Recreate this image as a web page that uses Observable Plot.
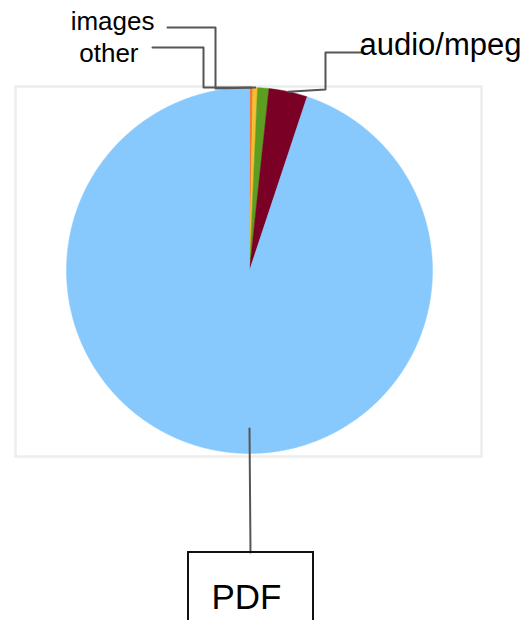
<!DOCTYPE html>
<html><head><meta charset="utf-8">
<script src="https://cdn.jsdelivr.net/npm/d3@7"></script>
<script src="https://cdn.jsdelivr.net/npm/@observablehq/plot@0.6"></script>
<style>body{margin:0;background:#fff}#chart svg{display:block}</style>
</head><body><div id="chart"></div>
<script>
// ---- data (clockwise from 12 o'clock) ----
const categories = ["other", "images", "unlabeled", "audio/mpeg", "PDF"];
const shares = [0.3, 0.4, 1.0, 3.4, 94.9];
const colors = ["#f07a3a", "#f2c12e", "#5c9e22", "#7b0025", "#88c9fd"];
const labels = ["other", "images", "", "audio/mpeg", "PDF"];

// ---- layout (pixels) ----
const W = 531, H = 620;
const cx = 249, cy = 270, R = 183;
const frameBox = {left: 15, right: 481, top: 86, bottom: 456};
const ux = px => (px - cx) / R;
const uy = py => (cy - py) / R;
// leader start (null = slice outer edge), elbows and label anchors per label
const layout = {
  "other":      {start: null, path: [[203, 87], [203, 47], [152, 47]], text: [138, 53.5], anchor: "end", size: 26},
  "images":     {start: null, path: [[215, 88], [215, 27], [167, 27]], text: [154, 21], anchor: "end", size: 26},
  "audio/mpeg": {start: null, path: [[325, 89], [325, 52], [362, 52]], text: [359, 45], anchor: "start", size: 31},
  "PDF":        {start: [249, 428], path: [[250, 552]], text: [246, 597], anchor: "middle", size: 35, box: [188, 313, 552, 640]}
};

// ---- slice geometry from data ----
const total = d3.sum(shares);
let cum = 0;
const slices = categories.map((name, i) => {
  const a0 = cum / total * 2 * Math.PI;
  cum += shares[i];
  const a1 = cum / total * 2 * Math.PI;
  return {name, a0, a1, mid: (a0 + a1) / 2, label: labels[i]};
});
const slicePts = [];
for (const s of slices) {
  slicePts.push({name: s.name, x: 0, y: 0});
  const n = Math.max(2, Math.ceil((s.a1 - s.a0) / 0.005));
  for (let k = 0; k <= n; k++) {
    const a = s.a0 + (s.a1 - s.a0) * k / n;
    slicePts.push({name: s.name, x: Math.sin(a), y: Math.cos(a)});
  }
  slicePts.push({name: s.name, x: 0, y: 0});
}

const leaderPts = [];
const textData = [];
const boxes = [];
for (const s of slices) {
  if (!s.label) continue;
  const L = layout[s.label];
  const start = L.start ? {x: ux(L.start[0]), y: uy(L.start[1])} : {x: Math.sin(s.mid), y: Math.cos(s.mid)};
  leaderPts.push({label: s.label, ...start});
  for (const [px, py] of L.path) leaderPts.push({label: s.label, x: ux(px), y: uy(py)});
  textData.push({label: s.label, x: ux(L.text[0]), y: uy(L.text[1]), anchor: L.anchor, size: L.size});
  if (L.box) boxes.push({x1: ux(L.box[0]), x2: ux(L.box[1]), y1: uy(L.box[2]), y2: uy(L.box[3])});
}

const font = "'Liberation Sans', Arial, sans-serif";
const chart = Plot.plot({
  width: W, height: H,
  marginLeft: frameBox.left, marginRight: W - frameBox.right,
  marginTop: frameBox.top, marginBottom: H - frameBox.bottom,
  x: {domain: [ux(frameBox.left), ux(frameBox.right)], axis: null},
  y: {domain: [uy(frameBox.bottom), uy(frameBox.top)], axis: null},
  color: {domain: categories, range: colors},
  style: {fontFamily: font, background: "#fff", overflow: "visible"},
  marks: [
    Plot.frame({stroke: "#ededed", strokeWidth: 2.5}),
    Plot.line(slicePts, {x: "x", y: "y", z: "name", fill: "name", stroke: "name", strokeWidth: 0.5, curve: "linear"}),
    Plot.line(leaderPts, {x: "x", y: "y", z: "label", stroke: "#555", strokeWidth: 2, curve: "linear"}),
    Plot.rect(boxes, {x1: "x1", x2: "x2", y1: "y1", y2: "y2", fill: "none", stroke: "#111", strokeWidth: 2}),
    ...["start", "middle", "end"].map(anc =>
      Plot.text(textData.filter(d => d.anchor === anc), {
        x: "x", y: "y", text: "label", textAnchor: anc, lineAnchor: "middle",
        fontSize: d => d.size, fill: "#000"
      }))
  ]
});
document.getElementById("chart").append(chart);
</script>
</body></html>
